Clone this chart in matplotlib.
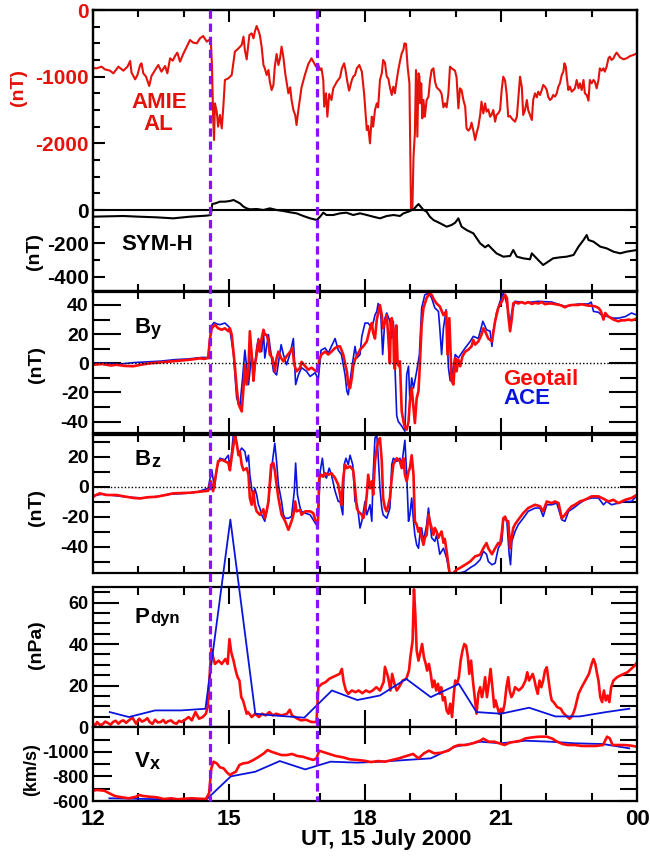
import numpy as np
import matplotlib
matplotlib.use("Agg")
import matplotlib.pyplot as plt
from matplotlib.lines import Line2D
from matplotlib.transforms import blended_transform_factory
from matplotlib.ticker import FixedLocator, MultipleLocator

# ---------------- data (UT hours) ----------------
al = [(12.00, -870), (12.08, -875), (12.19, -850), (12.26, -890), (12.375, -910), (12.45, -950),
      (12.56, -850), (12.67, -910), (12.76, -850), (12.82, -765), (12.85, -940), (12.93, -1040),
      (12.98, -975), (13.04, -825), (13.07, -800), (13.11, -950), (13.17, -1000), (13.24, -1140),
      (13.29, -990), (13.37, -900), (13.44, -825), (13.51, -925), (13.59, -840), (13.64, -950),
      (13.70, -725), (13.76, -760), (13.81, -690), (13.86, -640), (13.92, -775), (13.99, -660),
      (14.07, -550), (14.14, -450), (14.21, -490), (14.29, -500), (14.36, -425), (14.43, -390),
      (14.51, -475), (14.56, -450), (14.60, -475), (14.625, -850), (14.65, -1600), (14.67, -1950),
      (14.69, -1400), (14.73, -1525), (14.76, -1750), (14.80, -1575), (14.84, -1775), (14.875, -1450),
      (14.91, -1050), (14.985, -1025), (15.06, -975), (15.13, -625), (15.21, -575), (15.28, -525),
      (15.32, -400), (15.35, -600), (15.39, -740), (15.45, -375), (15.50, -350), (15.54, -425),
      (15.57, -325), (15.61, -240), (15.65, -310), (15.68, -375), (15.72, -550), (15.76, -825),
      (15.79, -875), (15.83, -975), (15.87, -900), (15.90, -1075), (15.94, -1200), (15.98, -1125),
      (16.01, -850), (16.05, -660), (16.09, -825), (16.125, -725), (16.16, -550), (16.20, -710),
      (16.24, -950), (16.27, -1075), (16.31, -1250), (16.35, -1160), (16.38, -1350), (16.42, -1500),
      (16.46, -1575), (16.49, -1725), (16.53, -1500), (16.60, -1160), (16.68, -960), (16.75, -810),
      (16.82, -725), (16.86, -775), (16.92, -850), (16.97, -825), (17.01, -900), (17.04, -875),
      (17.08, -1050), (17.10, -1450), (17.14, -1250), (17.17, -1600), (17.21, -1260), (17.26, -1350),
      (17.30, -1175), (17.38, -1075), (17.45, -1010), (17.49, -875), (17.54, -800), (17.57, -900),
      (17.61, -1075), (17.65, -1210), (17.71, -1050), (17.74, -1000), (17.78, -975), (17.82, -875),
      (17.875, -825), (17.93, -925), (17.98, -1250), (18.04, -1800), (18.07, -1740), (18.11, -2000),
      (18.15, -1600), (18.18, -1750), (18.22, -1500), (18.26, -1400), (18.29, -1460), (18.33, -1050),
      (18.37, -950), (18.40, -750), (18.44, -790), (18.48, -1000), (18.515, -1030), (18.55, -1160),
      (18.59, -1275), (18.625, -1150), (18.66, -1250), (18.70, -1050), (18.735, -900), (18.77, -775),
      (18.81, -650), (18.85, -590), (18.87, -500), (18.905, -510), (18.94, -850), (18.98, -1100),
      (19.00, -2150), (19.015, -3000), (19.045, -3000), (19.07, -2200), (19.10, -1850), (19.125, -900),
      (19.155, -1900), (19.18, -950), (19.20, -990), (19.22, -1400), (19.24, -1100), (19.265, -1625),
      (19.29, -1350), (19.32, -1600), (19.36, -1350), (19.40, -1300), (19.435, -1050), (19.47, -900),
      (19.51, -875), (19.545, -1075), (19.58, -1160), (19.655, -1210), (19.69, -1260), (19.73, -1460),
      (19.765, -1400), (19.80, -1460), (19.84, -1250), (19.875, -850), (19.91, -875), (19.985, -910),
      (20.02, -1010), (20.06, -1475), (20.095, -1175), (20.13, -1200), (20.17, -1350), (20.21, -1450),
      (20.24, -1775), (20.28, -1810), (20.32, -1775), (20.35, -1690), (20.39, -1810), (20.43, -1950),
      (20.46, -1850), (20.50, -1750), (20.54, -1575), (20.57, -1375), (20.61, -1550), (20.65, -1400),
      (20.68, -1525), (20.72, -1490), (20.76, -1600), (20.79, -1575), (20.83, -1500), (20.87, -1675),
      (20.90, -1575), (20.94, -1550), (20.98, -1500), (21.015, -1200), (21.05, -1000), (21.09, -1060),
      (21.125, -1260), (21.16, -1600), (21.20, -1590), (21.235, -1625), (21.27, -1650), (21.31, -1675),
      (21.35, -1600), (21.38, -1350), (21.42, -1000), (21.46, -1160), (21.49, -1575), (21.53, -1500),
      (21.57, -1350), (21.60, -1500), (21.64, -1575), (21.68, -1650), (21.71, -1350), (21.75, -1250),
      (21.79, -1310), (21.82, -1225), (21.86, -1275), (21.90, -1200), (21.93, -1125), (21.97, -1150),
      (22.01, -1200), (22.04, -1300), (22.08, -1350), (22.12, -1325), (22.15, -1275), (22.19, -1300),
      (22.23, -1250), (22.265, -1150), (22.30, -1100), (22.34, -975), (22.375, -925), (22.40, -800),
      (22.43, -850), (22.45, -1000), (22.485, -1200), (22.52, -1150), (22.56, -1225), (22.60, -1200),
      (22.63, -1175), (22.67, -1050), (22.71, -1175), (22.74, -1100), (22.78, -1200), (22.82, -1050),
      (22.85, -1250), (22.89, -1275), (22.93, -1360), (22.96, -1050), (23.00, -1100), (23.04, -1050),
      (23.07, -1075), (23.11, -1175), (23.15, -1050), (23.18, -875), (23.22, -910), (23.26, -875),
      (23.29, -925), (23.33, -850), (23.37, -725), (23.40, -700), (23.44, -750), (23.48, -725),
      (23.515, -675), (23.55, -640), (23.59, -675), (23.625, -710), (23.70, -740), (23.77, -725),
      (23.85, -690), (23.92, -675), (24.00, -650)]

symh = [(12.00, -40), (12.33, -38), (12.67, -36), (13.00, -40), (13.40, -44), (13.77, -50),
        (14.14, -40), (14.50, -34), (14.60, -30), (14.63, 36), (14.70, 40), (14.80, 50), (14.91, 50),
        (15.02, 54), (15.10, 60), (15.17, 50), (15.24, 40), (15.32, 20), (15.39, 10), (15.46, 4),
        (15.61, 6), (15.76, 0), (15.90, 10), (16.05, 0), (16.20, -6), (16.35, -14), (16.49, -20),
        (16.64, -36), (16.79, -50), (16.94, -60), (17.01, -40), (17.08, -16), (17.15, -30),
        (17.30, -30), (17.45, -20), (17.59, -16), (17.74, -30), (17.89, -20), (18.04, -30),
        (18.18, -40), (18.33, -50), (18.48, -36), (18.63, -30), (18.77, -36), (18.85, -20),
        (18.96, -10), (19.07, 4), (19.18, 36), (19.29, 0), (19.36, -10), (19.43, -40), (19.51, -60),
        (19.66, -80), (19.80, -100), (19.91, -90), (19.99, -76), (20.06, -50), (20.13, -100),
        (20.24, -120), (20.39, -140), (20.54, -200), (20.65, -224), (20.72, -210), (20.79, -230),
        (20.90, -260), (21.05, -280), (21.20, -276), (21.27, -240), (21.35, -280), (21.49, -290),
        (21.64, -296), (21.68, -260), (21.75, -280), (21.82, -300), (21.93, -330), (22.04, -310),
        (22.15, -290), (22.30, -284), (22.45, -280), (22.60, -270), (22.71, -220), (22.82, -180),
        (22.89, -150), (22.93, -180), (23.04, -190), (23.19, -220), (23.33, -230), (23.48, -250),
        (23.63, -260), (23.77, -250), (24.00, -240)]

by_geo = [(12.0, -1), (12.2, -0.5), (12.4, -1.5), (12.52, -1), (12.7, -1.8), (12.89, -2), (13.05, -1),
          (13.26, 0), (13.45, 0.5), (13.62, 1), (13.8, 1.5), (13.99, 2), (14.15, 2.5), (14.36, 3.4),
          (14.45, 3), (14.54, 3.6), (14.58, 17), (14.62, 24), (14.69, 26.5), (14.76, 24), (14.84, 23),
          (14.91, 24), (14.985, 22), (15.02, 24), (15.06, 19.6), (15.12, 1.3), (15.17, -17), (15.21, -28),
          (15.28, -33), (15.32, -17), (15.35, -1), (15.39, -14.6), (15.43, -3), (15.46, 22), (15.50, 6),
          (15.54, -12), (15.57, -1), (15.61, 6), (15.65, 16), (15.68, 8), (15.72, 17), (15.76, 23),
          (15.79, 19.6), (15.83, 19.6), (15.87, 15), (15.90, 6), (15.96, 3.6), (16.01, -5.5), (16.05, 3.6),
          (16.09, 8), (16.15, 3.6), (16.20, 1.3), (16.27, 4.8), (16.35, 8), (16.40, 10.5), (16.44, -1),
          (16.49, -5.5), (16.57, -3), (16.60, 1), (16.68, -2), (16.75, -4.4), (16.82, -3), (16.90, -5),
          (16.96, -5.5), (16.99, 2.5), (17.04, 6), (17.12, 8), (17.19, 6), (17.26, 8), (17.34, 10.5),
          (17.41, 11.6), (17.45, 11.6), (17.52, 6), (17.56, 0), (17.60, -5.5), (17.63, -14.6), (17.67, -17),
          (17.71, -10), (17.74, -2), (17.78, 2.5), (17.85, 7), (17.89, 9.4), (17.96, 11.6), (18.04, 15),
          (18.11, 24), (18.15, 27.6), (18.18, 20.8), (18.22, 17), (18.26, 30), (18.33, 40), (18.37, 33),
          (18.40, 24), (18.48, 33), (18.51, 19.6), (18.55, 0), (18.57, 28), (18.59, 31), (18.625, 24),
          (18.64, 0), (18.66, -4), (18.69, 26), (18.72, 0), (18.75, -2), (18.77, 1.3), (18.81, -33),
          (18.85, -40), (18.88, -44), (18.92, -45.5), (18.96, -40), (18.99, -26), (19.03, -17), (19.07, -31),
          (19.10, -41), (19.14, -24), (19.18, -19), (19.21, -1), (19.25, 26.5), (19.29, 38), (19.36, 44.8),
          (19.42, 48), (19.47, 47), (19.52, 43.7), (19.58, 41), (19.65, 39), (19.73, 33), (19.79, 35.6),
          (19.82, 6), (19.86, 31), (19.91, -12), (19.95, -14.6), (19.99, 3.6), (20.02, -5.5), (20.06, 2.5),
          (20.10, -2), (20.15, 4.8), (20.21, 8), (20.28, 9.4), (20.35, 11.6), (20.39, 16), (20.43, 12.8),
          (20.50, 15), (20.57, 19.6), (20.61, 24), (20.65, 22), (20.72, 17), (20.80, 15), (20.87, 28.8),
          (20.94, 38), (21.02, 42.5), (21.09, 47), (21.13, 44.8), (21.16, 33), (21.20, 22), (21.24, 31),
          (21.27, 41), (21.31, 42), (21.38, 41), (21.45, 42), (21.53, 41), (21.60, 42), (21.68, 40.7),
          (21.75, 41.5), (21.82, 41), (21.90, 42), (21.97, 40.5), (22.05, 41), (22.12, 41), (22.20, 40.5),
          (22.27, 40.2), (22.34, 39.5), (22.41, 38.4), (22.48, 39.5), (22.56, 40), (22.63, 40), (22.71, 40),
          (22.78, 40.5), (22.85, 40), (22.93, 39.5), (23.00, 39.5), (23.08, 39), (23.15, 38), (23.20, 36),
          (23.26, 30), (23.30, 34.5), (23.37, 32), (23.43, 31), (23.48, 30), (23.59, 28.8), (23.66, 29.5),
          (23.74, 29.5), (23.81, 30), (23.88, 29.5), (23.94, 30), (24.0, 31)]

by_ace = [(12.0, 0), (12.3, 0), (12.6, -0.5), (12.9, 0.5), (13.2, 1), (13.5, 1.5), (13.8, 2.5), (14.1, 3),
          (14.4, 4), (14.54, 4), (14.57, 15), (14.62, 26), (14.67, 28), (14.73, 27), (14.8, 26.5),
          (14.91, 27.6), (15.0, 25), (15.02, 23), (15.10, 6), (15.17, -24), (15.24, -29.5), (15.30, -10),
          (15.35, 9), (15.43, -14.6), (15.50, 6), (15.56, -5.5), (15.61, 10.5), (15.65, 17), (15.72, 8),
          (15.76, 22), (15.79, 3.6), (15.87, 19.6), (15.98, -5.5), (16.05, -8), (16.15, 12.8), (16.20, 6),
          (16.27, -1), (16.35, 7), (16.42, 17), (16.47, -14.6), (16.53, -8), (16.60, -3), (16.71, -5.5),
          (16.79, -9), (16.90, -6.5), (16.97, -11), (17.03, 9), (17.12, 10.5), (17.19, 7), (17.34, 17),
          (17.41, 9), (17.48, 6), (17.56, -7.8), (17.60, -19), (17.63, -21.6), (17.71, -3), (17.78, 11.6),
          (17.82, 3.6), (17.89, 6), (17.93, 18.5), (18.0, 27.6), (18.07, 27.6), (18.15, 24), (18.22, 33),
          (18.26, 35.6), (18.29, 41), (18.35, 33), (18.39, 6), (18.44, 31), (18.48, 34.5), (18.55, 28.8),
          (18.59, 17), (18.625, 28.8), (18.66, -1), (18.70, -36), (18.735, -40), (18.81, -43), (18.88, -46.6),
          (18.92, -7.8), (18.96, -2), (18.99, -26), (19.03, -10), (19.07, -17), (19.14, -5.5), (19.20, 6),
          (19.25, 38), (19.32, 47), (19.40, 48), (19.47, 44.8), (19.54, 38), (19.62, 35.6), (19.65, 24),
          (19.69, 6), (19.73, 24), (19.79, 36.7), (19.84, -3), (19.88, -12), (19.91, -10), (19.99, 6),
          (20.06, 3.6), (20.13, 7), (20.21, 10.5), (20.32, 15), (20.39, 18.5), (20.50, 17), (20.60, 28.8),
          (20.68, 23), (20.76, 22), (20.80, 11.6), (20.83, 22), (20.90, 34.5), (20.98, 42.5), (21.05, 48),
          (21.09, 46), (21.16, 35.6), (21.20, 26.5), (21.24, 35.6), (21.31, 42.5), (21.53, 41.5),
          (21.82, 42.5), (22.12, 42), (22.41, 39), (22.71, 40.7), (22.93, 40.7), (22.99, 42), (23.04, 35.6),
          (23.15, 35), (23.22, 33), (23.37, 32), (23.48, 31), (23.59, 31), (23.74, 32), (23.88, 34.5),
          (24.0, 33)]

bz_geo = [(12.0, -6.7), (12.1, -5), (12.15, -4.4), (12.3, -5.5), (12.52, -5.5), (12.7, -6.5), (12.9, -7.5),
          (13.04, -7.8), (13.2, -7), (13.40, -6.7), (13.6, -5.5), (13.77, -4.4), (13.95, -4.2), (14.14, -4),
          (14.3, -3.5), (14.45, -3), (14.54, -2.7), (14.60, 3.6), (14.65, -3), (14.71, 8), (14.76, 17),
          (14.84, 18), (14.91, 17), (14.985, 15.8), (15.02, 11), (15.06, 20), (15.10, 28), (15.13, 34.7),
          (15.17, 29), (15.21, 21), (15.24, 23.5), (15.28, 14.7), (15.32, 11), (15.39, 12.4), (15.43, 8),
          (15.46, -7.5), (15.50, -12), (15.54, -3), (15.57, -12), (15.61, -16.4), (15.68, -18.7),
          (15.76, -15), (15.79, -21), (15.83, -16.4), (15.87, -9.8), (15.93, 14.7), (15.98, 15.8),
          (16.01, 11), (16.05, 1.3), (16.09, -7.5), (16.125, -13), (16.16, -18.7), (16.24, -23),
          (16.31, -28.7), (16.38, -23), (16.42, -18.7), (16.46, -9.8), (16.49, -16.4), (16.57, -15.5),
          (16.60, -18.7), (16.68, -16.4), (16.79, -16.4), (16.86, -17.6), (16.90, -22), (16.96, -25.3),
          (16.99, 5.8), (17.04, 8), (17.08, 6.7), (17.12, 9), (17.19, 8), (17.26, 9), (17.34, 5.8),
          (17.41, 1.3), (17.45, -5.3), (17.48, -12), (17.52, 5.8), (17.56, 14.7), (17.60, 12.4),
          (17.67, 13.6), (17.74, 11), (17.78, -1), (17.82, -14.2), (17.85, -16.4), (17.93, -18.7),
          (17.96, -21), (18.00, -16.4), (18.04, -5.3), (18.07, 8), (18.11, -1), (18.15, 3.6), (18.18, -5.3),
          (18.22, 17), (18.26, 25.8), (18.29, 30), (18.33, 32.4), (18.37, 17), (18.40, -7.5), (18.44, -14.2),
          (18.48, -16.4), (18.55, -7.5), (18.59, 5.8), (18.625, 14.7), (18.66, 17), (18.70, 19), (18.77, 17),
          (18.81, 12.4), (18.85, 19), (18.88, 8), (18.92, 3.6), (18.96, 10.2), (18.99, 12.4), (19.03, 21),
          (19.07, 8), (19.10, -23), (19.14, -25.3), (19.18, -30), (19.21, -27.5), (19.25, -34),
          (19.29, -38.7), (19.32, -34), (19.36, -32), (19.40, -18.7), (19.43, -23), (19.47, -27.5),
          (19.51, -32), (19.54, -27.5), (19.58, -29.8), (19.62, -34), (19.65, -32), (19.69, -29.8),
          (19.73, -37.3), (19.76, -34.7), (19.80, -43), (19.84, -52), (19.87, -58.5), (19.95, -57.5),
          (20.02, -55.3), (20.10, -54), (20.21, -52), (20.32, -49.8), (20.43, -46.4), (20.54, -45.3),
          (20.61, -41), (20.68, -37.5), (20.72, -41), (20.80, -45), (20.87, -41), (20.94, -37.5),
          (20.98, -38.7), (21.02, -30), (21.05, -21), (21.09, -20), (21.13, -23), (21.16, -23), (21.20, -41),
          (21.24, -33), (21.27, -27.5), (21.31, -25), (21.38, -22), (21.49, -17.6), (21.60, -14.2),
          (21.68, -13), (21.75, -12), (21.86, -13), (21.93, -16.4), (22.01, -9.8), (22.12, -10.9),
          (22.19, -9.8), (22.27, -10.9), (22.34, -21), (22.41, -18.7), (22.49, -15.3), (22.56, -13),
          (22.63, -12), (22.74, -9.8), (22.85, -8.7), (23.00, -6.4), (23.15, -6.4), (23.26, -8),
          (23.37, -9.8), (23.48, -8.7), (23.59, -10.9), (23.74, -8.7), (23.88, -7.5), (24.0, -5.3)]

bz_ace = [(12.0, -6), (12.2, -5), (12.5, -6), (12.8, -7), (13.1, -7.5), (13.4, -6.5), (13.7, -5),
          (14.0, -4.5), (14.3, -3.5), (14.54, -1), (14.62, 11.3), (14.68, -1), (14.73, 12.4), (14.80, 19),
          (14.91, 18), (14.985, 21), (15.02, 12.4), (15.06, 23.5), (15.12, 42.4), (15.17, 28), (15.21, 22),
          (15.28, 25.8), (15.35, 23.5), (15.39, 16.7), (15.43, 21), (15.46, 8), (15.50, -1), (15.54, -9.8),
          (15.57, -1), (15.61, -5.3), (15.65, -12), (15.68, -14.2), (15.72, -18.7), (15.79, -23),
          (15.87, -9.8), (15.94, 12.4), (16.01, 29), (16.05, 16.7), (16.09, 1.3), (16.16, -9.8),
          (16.20, -18.7), (16.24, -21), (16.31, -21), (16.38, -19.8), (16.44, -3), (16.47, 15.8),
          (16.51, -5.3), (16.57, -14.2), (16.60, -16.4), (16.68, -17.6), (16.79, -18.7), (16.90, -24),
          (16.96, -27), (17.01, 10), (17.06, 19), (17.10, 8), (17.15, 5.8), (17.21, 12.4), (17.26, 8),
          (17.34, -3), (17.41, -9.8), (17.45, -9.8), (17.51, -18.7), (17.54, 14.7), (17.58, 19),
          (17.63, 14.7), (17.67, 21), (17.73, 14.7), (17.78, -9.8), (17.83, -12), (17.89, -27.5),
          (17.93, -23), (18.0, -9.8), (18.04, -18.7), (18.11, -12), (18.15, -23), (18.18, 8), (18.22, 32.4),
          (18.26, 34.7), (18.29, 21), (18.33, -1), (18.37, -14.2), (18.40, -18.7), (18.48, -21),
          (18.55, -14.2), (18.59, 14.7), (18.625, 19), (18.70, 16.9), (18.77, 19), (18.81, 14.7),
          (18.88, 31), (18.92, 8), (18.96, -23), (18.99, -18.7), (19.03, -7.5), (19.07, -23), (19.10, -32),
          (19.14, -38.7), (19.18, -41), (19.21, -32), (19.25, -27.5), (19.29, -36.4), (19.36, -25.3),
          (19.40, -14.2), (19.47, -34), (19.54, -36.4), (19.58, -32), (19.65, -45), (19.73, -41),
          (19.80, -47.5), (19.87, -58.7), (19.95, -61), (20.02, -59.8), (20.10, -57.5), (20.21, -56.4),
          (20.32, -54), (20.43, -52), (20.54, -48.6), (20.61, -43), (20.68, -45), (20.72, -49.8),
          (20.80, -52), (20.87, -51), (20.94, -41), (21.02, -36.4), (21.05, -23), (21.09, -19.8),
          (21.13, -23), (21.18, -45), (21.21, -52), (21.24, -36.4), (21.31, -29.8), (21.38, -25.3),
          (21.49, -21), (21.60, -16.4), (21.75, -14.2), (21.86, -14.2), (21.93, -19.8), (22.01, -12),
          (22.12, -12), (22.23, -10.9), (22.34, -22), (22.41, -23), (22.49, -16.4), (22.60, -14.2),
          (22.74, -10.9), (22.85, -8.7), (23.0, -7.5), (23.15, -7.5), (23.26, -12), (23.33, -9.8),
          (23.44, -12), (23.59, -10.9), (23.74, -9.8), (23.88, -9.8), (24.0, -5.8)]

pdyn_geo = [(12.00, 1.6), (12.05, 0.8), (12.09, 2.4), (12.15, 1.0), (12.21, 1.3), (12.27, 2.6), (12.33, 1.9),
            (12.39, 1.1), (12.44, 2.4), (12.50, 3.0), (12.56, 1.6), (12.62, 2.8), (12.67, 3.2), (12.73, 2.0),
            (12.79, 3.2), (12.87, 4.5), (12.95, 1.6), (13.02, 4.0), (13.08, 2.6), (13.14, 3.2), (13.20, 4.2),
            (13.25, 2.4), (13.31, 1.5), (13.37, 3.5), (13.43, 2.2), (13.49, 2.4), (13.55, 3.4), (13.60, 1.9),
            (13.66, 2.8), (13.72, 3.2), (13.78, 2.0), (13.84, 1.6), (13.90, 3.0), (13.95, 2.4), (14.03, 3.5),
            (14.11, 4.8), (14.18, 3.2), (14.26, 7.2), (14.34, 4.0), (14.42, 4.8), (14.49, 6.4), (14.53, 9.6),
            (14.57, 24), (14.61, 37.6), (14.65, 33.6), (14.69, 30.4), (14.77, 32), (14.84, 30.4), (14.92, 32.8),
            (14.97, 30.4), (15.01, 42.4), (15.05, 36), (15.10, 32), (15.15, 27), (15.19, 24), (15.23, 22.4),
            (15.27, 14.4), (15.31, 12.8), (15.35, 9.6), (15.39, 6.4), (15.42, 7.2), (15.50, 4.8), (15.58, 6.4),
            (15.66, 4.8), (15.73, 6.4), (15.81, 5.6), (15.89, 7.2), (15.97, 5.6), (16.04, 6.4), (16.16, 5.6),
            (16.28, 6.4), (16.34, 8.3), (16.39, 5.6), (16.51, 4.0), (16.59, 3.2), (16.70, 3.5), (16.82, 2.4),
            (16.93, 2.4), (16.97, 19.2), (17.05, 20.8), (17.13, 21.6), (17.21, 23.2), (17.28, 24), (17.36, 24.8),
            (17.44, 25.6), (17.49, 28), (17.53, 21.6), (17.58, 17.6), (17.63, 16), (17.71, 17.6), (17.79, 16.8),
            (17.86, 17.6), (17.94, 16.3), (18.02, 17.6), (18.10, 16.8), (18.17, 17.6), (18.25, 19.2),
            (18.33, 17.6), (18.41, 21.6), (18.44, 29), (18.51, 24), (18.56, 17.6), (18.60, 25.6), (18.65, 20.8),
            (18.70, 17.6), (18.75, 19.2), (18.83, 22.4), (18.91, 23.2), (18.97, 27.2), (19.00, 33.6),
            (19.05, 41.6), (19.08, 66.4), (19.11, 54.4), (19.14, 36.8), (19.18, 32), (19.22, 36), (19.26, 40),
            (19.30, 33.6), (19.34, 30.4), (19.37, 27.2), (19.41, 30.4), (19.45, 25.6), (19.49, 19.2),
            (19.53, 22.4), (19.57, 17.6), (19.61, 20.8), (19.65, 16), (19.68, 19.2), (19.72, 12.8),
            (19.76, 14.4), (19.80, 8), (19.84, 6.4), (19.88, 11.2), (19.92, 4.8), (19.96, 16), (19.99, 22.4),
            (20.03, 20.8), (20.07, 24), (20.11, 32), (20.15, 36.8), (20.19, 40), (20.23, 39.2), (20.27, 33.6),
            (20.30, 25.6), (20.34, 32), (20.38, 22.4), (20.42, 14.4), (20.46, 6.4), (20.50, 16), (20.54, 19.2),
            (20.58, 14.4), (20.61, 17.6), (20.65, 24), (20.69, 14.4), (20.73, 20.8), (20.77, 28), (20.81, 19.2),
            (20.85, 9.6), (20.88, 12.8), (20.92, 9.6), (20.96, 6.4), (21.00, 8.8), (21.04, 7.2), (21.08, 11.2),
            (21.12, 19.2), (21.16, 24), (21.19, 17.6), (21.23, 14.4), (21.27, 16), (21.31, 19.2), (21.39, 17.6),
            (21.47, 19.2), (21.54, 22.4), (21.58, 26.4), (21.62, 22.4), (21.66, 24), (21.70, 25.6),
            (21.74, 22.4), (21.77, 19.2), (21.81, 16), (21.85, 22.4), (21.89, 19.2), (21.93, 22.4),
            (21.97, 27.2), (22.01, 28.8), (22.05, 22.4), (22.09, 16), (22.12, 12.8), (22.16, 12), (22.24, 9.6),
            (22.32, 8.8), (22.36, 7.2), (22.39, 6.4), (22.43, 5.6), (22.47, 4.8), (22.51, 4.0), (22.55, 4.8),
            (22.59, 6.4), (22.63, 8.8), (22.71, 16), (22.78, 19.2), (22.86, 22.4), (22.94, 25.6), (23.00, 30.4),
            (23.04, 32.8), (23.08, 30.4), (23.12, 25.6), (23.15, 22.4), (23.19, 14.4), (23.23, 12),
            (23.27, 17.6), (23.31, 12.8), (23.35, 15.2), (23.39, 12), (23.43, 19.2), (23.48, 22.4), (23.56, 24),
            (23.63, 24.8), (23.71, 25.6), (23.79, 26.4), (23.87, 28), (23.95, 29.6), (24.00, 31.2)]

pdyn_ace = [(12.37, 7.2), (12.79, 4.8), (13.37, 8), (13.95, 8), (14.48, 8.8), (15.03, 100), (15.58, 6.4),
            (15.97, 5.6), (16.66, 4.5), (17.27, 17.6), (17.83, 13), (18.33, 15.2), (18.91, 23.2),
            (19.45, 14.4), (20.07, 20.8), (20.46, 7.2), (21.0, 6.4), (21.62, 9.3), (22.20, 5.1),
            (22.74, 5.1), (23.32, 7.2), (23.83, 8.8)]

vx_geo = [(12.0, -684), (12.09, -690), (12.25, -684), (12.36, -663), (12.48, -641), (12.64, -630),
          (12.79, -622), (12.95, -635), (13.02, -649), (13.10, -641), (13.25, -635), (13.41, -630),
          (13.56, -616), (13.72, -622), (13.87, -614), (14.03, -619), (14.18, -622), (14.34, -619),
          (14.49, -616), (14.56, -663), (14.61, -867), (14.66, -921), (14.73, -907), (14.80, -875),
          (14.88, -867), (14.96, -831), (15.02, -812), (15.08, -826), (15.15, -839), (15.23, -894),
          (15.31, -907), (15.42, -913), (15.54, -935), (15.66, -962), (15.77, -989), (15.85, -1016),
          (15.93, -1003), (16.04, -989), (16.16, -975), (16.28, -975), (16.39, -984), (16.51, -967),
          (16.62, -962), (16.74, -948), (16.86, -935), (16.93, -948), (16.99, -1011), (17.05, -1003),
          (17.21, -984), (17.36, -967), (17.52, -956), (17.67, -940), (17.83, -935), (17.98, -929),
          (18.13, -918), (18.29, -926), (18.44, -921), (18.60, -935), (18.75, -948), (18.91, -967),
          (19.06, -984), (19.18, -948), (19.30, -989), (19.41, -1011), (19.53, -989), (19.68, -994),
          (19.84, -1011), (19.96, -1043), (20.07, -1057), (20.23, -1057), (20.38, -1071), (20.54, -1092),
          (20.61, -1109), (20.73, -1084), (20.85, -1084), (20.96, -1071), (21.08, -1057), (21.19, -1076),
          (21.31, -1084), (21.43, -1092), (21.54, -1111), (21.70, -1120), (21.85, -1125), (22.01, -1125),
          (22.12, -1111), (22.24, -1084), (22.36, -1065), (22.47, -1057), (22.63, -1057), (22.78, -1049),
          (22.94, -1049), (23.09, -1049), (23.25, -1057), (23.34, -1125), (23.40, -1111), (23.46, -1057),
          (23.56, -1057), (23.71, -1057), (23.87, -1052), (24.00, -1043)]

vx_ace = [(12.36, -622), (14.49, -608), (15.04, -801), (15.58, -839), (16.12, -926), (16.68, -858),
          (17.24, -921), (17.83, -913), (18.37, -921), (18.91, -935), (19.45, -948), (19.99, -1043),
          (20.54, -1084), (21.0, -1071), (21.54, -1092), (22.09, -1084), (22.63, -1071), (23.25, -1065),
          (23.83, -1030)]

dash_times = [14.57, 16.95]
xtick_pos = [12, 15, 18, 21, 24]
xtick_lab = ["12", "15", "18", "21", "00"]

# ---------------- style ----------------
plt.rcParams.update({
    "font.family": "Liberation Sans",
    "font.weight": "bold",
    "axes.linewidth": 1.6,
    "axes.unicode_minus": False,
})

RED_AL = "#e3120b"
RED = "#ff0a0a"
BLUE = "#0a14dc"
PURPLE = "#8a10ff"

W, H = 650, 858
fig = plt.figure(figsize=(6.5, 8.58), dpi=100)


def panel(top, bottom):
    return fig.add_axes([93 / W, 1 - bottom / H, 544 / W, (bottom - top) / H])


def xy(pairs):
    a = np.array(pairs, dtype=float)
    return a[:, 0], a[:, 1]


def style_x(ax, maj=8, mnr=5, labels=False):
    ax.set_xlim(12, 24)
    ax.xaxis.set_major_locator(FixedLocator(xtick_pos))
    ax.xaxis.set_minor_locator(MultipleLocator(1))
    ax.tick_params(axis="x", which="both", direction="in", top=True, bottom=True, width=1.5)
    ax.tick_params(axis="x", which="major", length=maj)
    ax.tick_params(axis="x", which="minor", length=mnr)
    if labels:
        ax.set_xticklabels(xtick_lab)
        ax.tick_params(axis="x", labelsize=16, pad=6)
    else:
        ax.tick_params(axis="x", labelbottom=False)


def style_y(ax, major, minor, lim, maj=8, mnr=5, size=14, color="k"):
    ax.set_ylim(*lim)
    ax.yaxis.set_major_locator(FixedLocator(major))
    ax.yaxis.set_minor_locator(FixedLocator(minor))
    ax.tick_params(axis="y", which="both", direction="in", left=True, right=True,
                   labelleft=True, labelright=False, width=1.5)
    ax.tick_params(axis="y", which="major", length=maj, labelsize=size, labelcolor=color, pad=3)
    ax.tick_params(axis="y", which="minor", length=mnr)


def ftext(x, y, s, **kw):
    fig.text(x / W, 1 - y / H, s, **kw)


# ---- panel 1 : AMIE AL + SYM-H ----
ax1 = panel(10, 291)
t, v = xy(al)
ax1.plot(t, v, color=RED_AL, lw=1.5)
style_x(ax1, 8.5, 5)
style_y(ax1, [0, -1000, -2000], list(range(-2750, 0, 250)), (-4215, 0), 8.5, 5, 15, RED_AL)

ax1b = ax1.twinx()
t, v = xy(symh)
ax1b.plot(t, v, color="k", lw=1.5)
ax1b.axhline(0, color="k", lw=1.5)
style_y(ax1b, [0, -200, -400], [-100, -300], (-486, 1200), 8.5, 5, 15, "k")

ftext(18, 88, "(nT)", rotation=90, ha="center", va="center", color=RED_AL, fontsize=14)
ftext(159, 102, "AMIE", ha="center", va="center", color=RED_AL, fontsize=16)
ftext(158, 124, "AL", ha="center", va="center", color=RED_AL, fontsize=16)
ftext(34, 252, "(nT)", rotation=90, ha="center", va="center", fontsize=14)
ftext(157, 245, "SYM-H", ha="center", va="center", fontsize=16)

# ---- panel 2 : By ----
ax2 = panel(292, 433)
t, v = xy(by_ace)
ax2.plot(t, v, color=BLUE, lw=1.2)
t, v = xy(by_geo)
ax2.plot(t, v, color=RED, lw=1.9)
ax2.axhline(0, color="k", lw=1, ls=(0, (1, 1.5)))
style_x(ax2, 11, 5)
style_y(ax2, [-40, -20, 0, 20, 40], [-30, -10, 10, 30], (-47.8, 48.9), 20, 12, 14)
ftext(37, 364, "(nT)", rotation=90, ha="center", va="center", fontsize=14)
ftext(135, 333, "B", ha="left", va="baseline", fontsize=16)
ftext(151, 335, "y", ha="left", va="baseline", fontsize=13)
ftext(503, 385, "Geotail", ha="left", va="baseline", color=RED, fontsize=16)
ftext(503, 404, "ACE", ha="left", va="baseline", color=BLUE, fontsize=16)

# ---- panel 3 : Bz ----
ax3 = panel(435, 573)
t, v = xy(bz_ace)
ax3.plot(t, v, color=BLUE, lw=1.2)
t, v = xy(bz_geo)
ax3.plot(t, v, color=RED, lw=1.9)
ax3.axhline(0, color="k", lw=1, ls=(0, (1, 1.5)))
style_x(ax3, 11, 5)
style_y(ax3, [-40, -20, 0, 20], [-50, -30, -10, 10, 30], (-57.5, 34.5), 12, 12, 14)
ftext(37, 507, "(nT)", rotation=90, ha="center", va="center", fontsize=14)
ftext(135, 465, "B", ha="left", va="baseline", fontsize=16)
ftext(151, 467, "z", ha="left", va="baseline", fontsize=13)

# ---- panel 4 : Pdyn ----
ax4 = panel(587, 727)
t, v = xy(pdyn_geo)
ax4.plot(t, v, color=RED, lw=1.9)
t, v = xy(pdyn_ace)
ax4.plot(t, v, color=BLUE, lw=1.3, clip_on=False, zorder=4)
ax4.axhline(0, color=BLUE, lw=1.5, zorder=3)
style_x(ax4, 12, 6)
style_y(ax4, [0, 20, 40, 60], [5, 10, 15, 25, 30, 35, 45, 50, 55, 65], (0, 67.5), 19, 12, 13)
ftext(36, 645, "(nPa)", rotation=90, ha="center", va="center", fontsize=14)
ftext(135, 623, "P", ha="left", va="baseline", fontsize=16)
ftext(150, 623, "dyn", ha="left", va="baseline", fontsize=12)

# ---- panel 5 : Vx ----
ax5 = panel(727, 801)
t, v = xy(vx_ace)
ax5.plot(t, v, color=BLUE, lw=1.3)
t, v = xy(vx_geo)
ax5.plot(t, v, color=RED, lw=1.9)
style_x(ax5, 12, 6, labels=True)
style_y(ax5, [-600, -800, -1000], [-700, -900, -1100], (-600, -1204), 14, 12, 13)
ftext(32, 770, "(km/s)", rotation=90, ha="center", va="center", fontsize=13)
ftext(135, 767, "V", ha="left", va="baseline", fontsize=16)
ftext(150, 769, "x", ha="left", va="baseline", fontsize=13)
ftext(386, 840, "UT, 15 July 2000", ha="center", va="center", fontsize=16)

# ---- shock / discontinuity markers across all panels ----
tr = blended_transform_factory(ax5.transData, fig.transFigure)
for td in dash_times:
    fig.add_artist(Line2D([td, td], [1 - 10 / H, 1 - 801 / H], transform=tr, color=PURPLE,
                          lw=2.3, ls=(0, (2.6, 1.5)), zorder=10))

fig.savefig("out.png", dpi=100)
